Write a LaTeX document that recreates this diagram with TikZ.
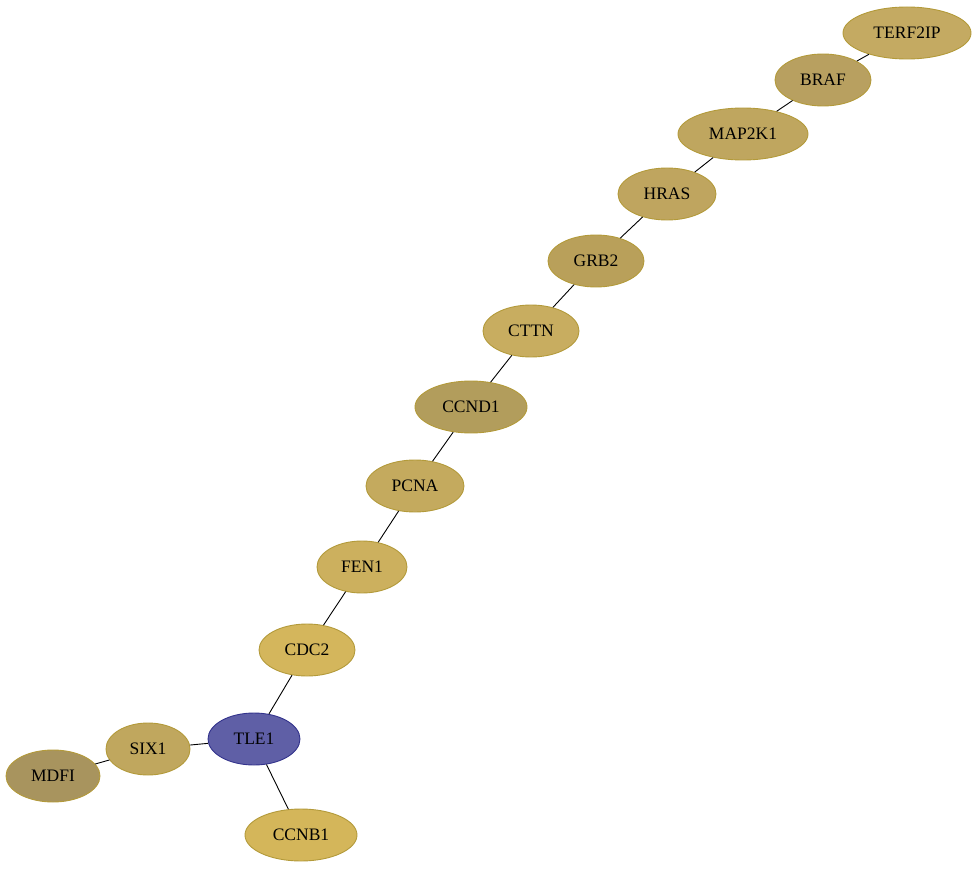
\documentclass[tikz,border=0pt]{standalone}
\usepackage{fontspec}
\setmainfont{Liberation Serif}
\usetikzlibrary{shapes.geometric}
\definecolor{goldline}{HTML}{B39A3A}
\definecolor{blueline}{HTML}{33338C}
\definecolor{cTERF}{HTML}{C4AA62}
\definecolor{cBRAF}{HTML}{B8A060}
\definecolor{cMAP}{HTML}{BFA65F}
\definecolor{cHRAS}{HTML}{BFA55F}
\definecolor{cGRB}{HTML}{B9A05A}
\definecolor{cCTTN}{HTML}{C8AD60}
\definecolor{cCCND}{HTML}{B29D5C}
\definecolor{cPCNA}{HTML}{C4AA5E}
\definecolor{cFEN}{HTML}{CCB05E}
\definecolor{cCDC}{HTML}{D4B65C}
\definecolor{cTLE}{HTML}{5F5FA6}
\definecolor{cSIX}{HTML}{C0A75E}
\definecolor{cMDFI}{HTML}{A8945E}
\definecolor{cCCNB}{HTML}{D4B65A}
\begin{document}
\begin{tikzpicture}[x=1pt,y=-1pt,
    gene/.style={ellipse,fill=#1,inner sep=0pt,minimum height=52pt,
      line width=0.9pt,font=\fontsize{17.5}{20}\selectfont}]
   \useasboundingbox (0,0) rectangle (979,869);
   \foreach \n/\x/\y/\w/\c/\l in
     { TERF2IP/907/33/128/cTERF/goldline,
       BRAF/823/80/96/cBRAF/goldline,
       MAP2K1/743/134/130/cMAP/goldline,
       HRAS/667/194/98/cHRAS/goldline,
       GRB2/596/261/96/cGRB/goldline,
       CTTN/531/331/96/cCTTN/goldline,
       CCND1/471/407/112/cCCND/goldline,
       PCNA/415/486/98/cPCNA/goldline,
       FEN1/362/567/90/cFEN/goldline,
       CDC2/307/650/96/cCDC/goldline,
       TLE1/254/739/92/cTLE/blueline,
       SIX1/148/749/84/cSIX/goldline,
       MDFI/53/776/94/cMDFI/goldline,
       CCNB1/301/835/112/cCCNB/goldline}
     \node[gene=\c,draw=\l,minimum width=\w pt] (\n) at (\x,\y) {\n};
   \foreach \a/\b in
     {TERF2IP/BRAF, BRAF/MAP2K1, MAP2K1/HRAS, HRAS/GRB2, GRB2/CTTN,
      CTTN/CCND1, CCND1/PCNA, PCNA/FEN1, FEN1/CDC2, CDC2/TLE1,
      TLE1/SIX1, SIX1/MDFI, TLE1/CCNB1}
     \draw[line width=0.9pt] (\a) -- (\b);
\end{tikzpicture}
\end{document}
